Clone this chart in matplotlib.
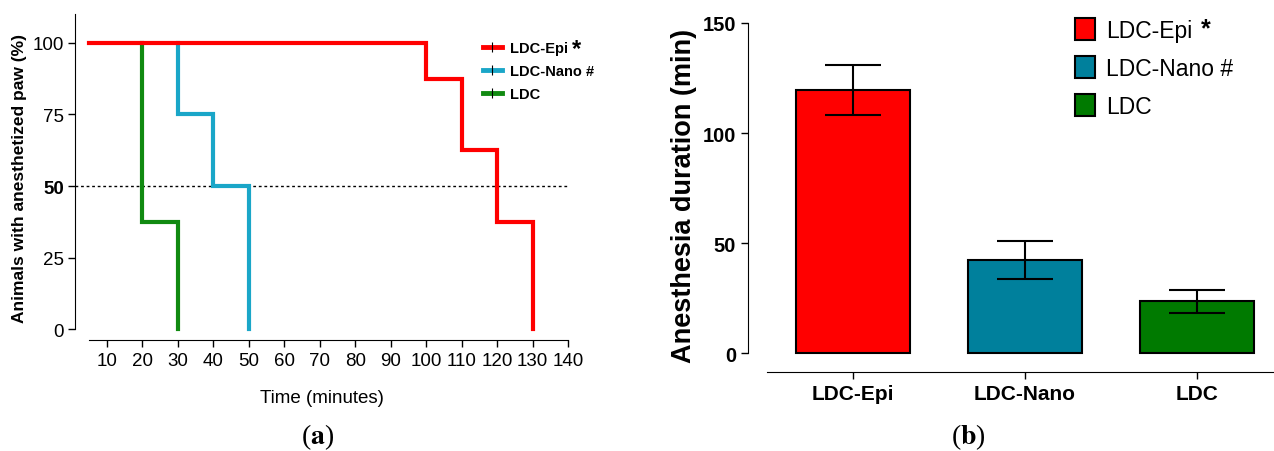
import matplotlib
matplotlib.use("Agg")
import matplotlib.pyplot as plt
from matplotlib.lines import Line2D
from matplotlib.patches import Patch
import numpy as np

plt.rcParams['font.family'] = ['Liberation Sans', 'DejaVu Sans']
plt.rcParams['mathtext.fontset'] = 'stix'

# ---- Panel (a): survival-type step curves ----
epi_t = [5, 100, 110, 120, 130, 130]
epi_y = [100, 87.5, 62.5, 37.5, 0, 0]
nano_t = [30, 30, 40, 50, 50]
nano_y = [100, 75, 50, 0, 0]
ldc_t = [20, 20, 30, 30]
ldc_y = [100, 37.5, 0, 0]
xticks_a = [10, 20, 30, 40, 50, 60, 70, 80, 90, 100, 110, 120, 130, 140]
yticks_a = [0, 25, 50, 75, 100]
legend_a = ["LDC-Epi", "LDC-Nano #", "LDC"]

# ---- Panel (b): bar chart ----
groups = ["LDC-Epi", "LDC-Nano", "LDC"]
legend_b = ["LDC-Epi", "LDC-Nano #", "LDC"]
means = [119.5, 42.3, 23.6]
sems = [11.3, 8.7, 5.2]
yticks_b = [0, 50, 100, 150]

c_red = "#FF0000"
c_blue = "#1AA6C8"
c_green = "#118A11"
b_red = "#FF0000"
b_teal = "#00809C"
b_green = "#007A00"

fig = plt.figure(figsize=(12.74, 4.52), dpi=100)

ax = fig.add_axes([0.0589, 0.2445, 0.387, 0.7215])
ax.set_xlim(1, 140)
ax.set_ylim(-4, 110)
ax.axhline(50, color="black", linestyle=(0, (2, 2)), linewidth=1.0, zorder=1)
lw = 3.0
ax.step(ldc_t, ldc_y, where="post", color=c_green, linewidth=lw, zorder=2, solid_joinstyle="miter")
ax.step(nano_t, nano_y, where="post", color=c_blue, linewidth=lw, zorder=2, solid_joinstyle="miter")
ax.step(epi_t, epi_y, where="post", color=c_red, linewidth=lw, zorder=3, solid_joinstyle="miter")
for s in ["top", "right"]:
    ax.spines[s].set_visible(False)
ax.spines["bottom"].set_bounds(5, 140)
ax.spines["left"].set_bounds(0, 110)
ax.set_xticks(xticks_a)
ax.set_yticks(yticks_a)
ax.set_yticklabels([str(v) for v in yticks_a])
ax.tick_params(axis="both", labelsize=13.5, length=5, width=1, pad=3)
for lab in ax.get_yticklabels():
    if lab.get_text() == "50":
        lab.set_fontweight("bold")
ax.set_xlabel("Time (minutes)", fontsize=13.5, labelpad=15)
ax.set_ylabel("Animals with anesthetized paw (%)", fontsize=12.5, fontweight="bold", labelpad=4)

def h(color):
    return (Line2D([], [], color=color, linewidth=3.5),
            Line2D([], [], color="black", marker="|", markersize=7, linestyle="none", markeredgewidth=0.8))

leg_a = ax.legend([h(c_red), h(c_blue), h(c_green)], legend_a,
                  loc="upper left", bbox_to_anchor=(0.8, 0.958), frameon=False,
                  prop={"weight": "bold", "size": 10.5}, handlelength=1.3,
                  labelspacing=0.62, handletextpad=0.6)

fig.text(318 / 1274, 1 - 437 / 452, "($\\mathbf{a}$)", ha="center", va="center",
         fontsize=20, family="Liberation Serif")

# ---- Panel (b) ----
bx = fig.add_axes([0.5871, 0.1748, 0.4129, 0.7819])
x = np.arange(len(groups))
bx.bar(x, means, width=0.664, color=[b_red, b_teal, b_green], edgecolor="black",
       linewidth=1.5, zorder=2)
bx.errorbar(x, means, yerr=sems, fmt="none", ecolor="black", elinewidth=1.5,
            capsize=20.5, capthick=1.5, zorder=3)
bx.set_xlim(-0.61, 2.45)
bx.set_ylim(-8.6, 152)
for s in ["top", "right"]:
    bx.spines[s].set_visible(False)
bx.spines["bottom"].set_bounds(-0.5, 2.45)
bx.spines["left"].set_bounds(0, 150)
bx.set_xticks(x)
bx.set_xticklabels(groups, fontsize=15, fontweight="bold")
bx.set_yticks(yticks_b)
bx.set_yticklabels([str(v) for v in yticks_b], fontsize=14.5, fontweight="bold")
bx.tick_params(axis="both", length=5, width=1)
bx.set_ylabel("Anesthesia duration (min)", fontsize=19.5, fontweight="bold", labelpad=4)

handles_b = [Patch(facecolor=c, edgecolor="black", linewidth=1.5) for c in [b_red, b_teal, b_green]]
leg_b = bx.legend(handles_b, legend_b, loc="upper left", bbox_to_anchor=(0.583, 1.06), frameon=False,
                  fontsize=16.5, handlelength=0.85, handleheight=1.1, labelspacing=0.63,
                  handletextpad=0.5)

fig.text(968 / 1274, 1 - 437 / 452, "($\\mathbf{b}$)", ha="center", va="center",
         fontsize=20, family="Liberation Serif")

# asterisks after the LDC-Epi legend labels
fig.canvas.draw()
r = fig.canvas.get_renderer()
inv = fig.transFigure.inverted()
bb = leg_a.get_texts()[0].get_window_extent(r)
px, py = inv.transform((bb.x1 + 4, bb.y1 + 4))
fig.text(px, py, "*", fontsize=17, fontweight="bold", ha="left", va="top")
bb = leg_b.get_texts()[0].get_window_extent(r)
px, py = inv.transform((bb.x1 + 8, bb.y1 + 2))
fig.text(px, py, "*", fontsize=18, fontweight="bold", ha="left", va="top")

fig.savefig("out.png", dpi=100)
